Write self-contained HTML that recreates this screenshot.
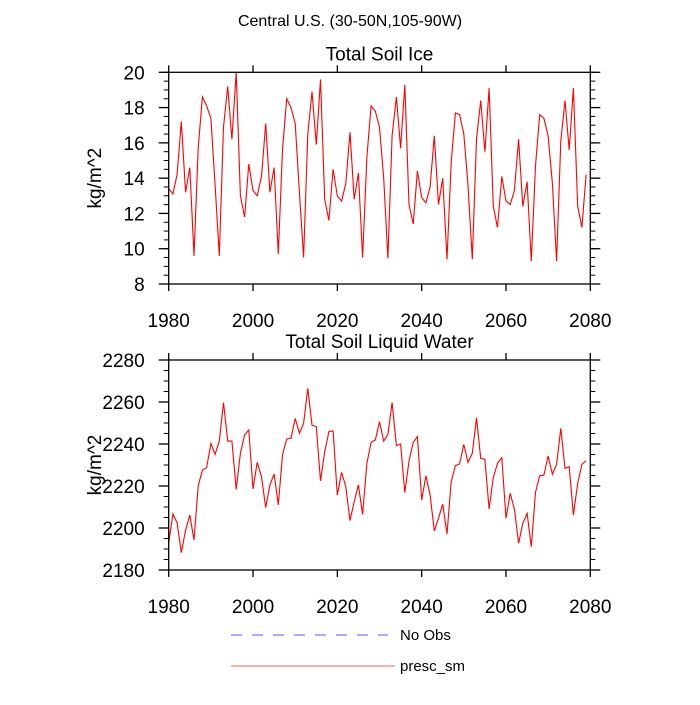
<!DOCTYPE html>
<html><head><meta charset="utf-8"><style>
body{margin:0;background:#fff}
svg text{font-family:"Liberation Sans",sans-serif}
</style></head><body>
<svg id="c" width="700" height="700" viewBox="0 0 700 700" xmlns="http://www.w3.org/2000/svg">
<rect width="700" height="700" fill="#fff"/>
<text x="350" y="26" font-size="16" text-anchor="middle">Central U.S. (30-50N,105-90W)</text>
<g>
<line x1="231" y1="635" x2="388" y2="635" stroke="#5555ff" stroke-dasharray="11,10"/>
<text x="400" y="640" font-size="15">No Obs</text>
<line x1="231" y1="666" x2="395" y2="666" stroke="#f06060"/>
<text x="400" y="671" font-size="15">presc_sm</text>
</g>
</svg>
<script>
const years = Array.from({length:100},(_,i)=>1980+i);
const iceValues = [13.4,13.1,14.2,17.2,13.2,14.6,9.6,15.7,18.6,18.1,17.4,13.6,9.6,16.9,19.2,16.2,20.0,13.0,11.8,14.8,13.3,13.0,14.1,17.1,13.2,14.6,9.7,15.6,18.5,18.0,17.1,13.2,9.5,16.5,18.9,15.9,19.6,12.8,11.6,14.5,13.0,12.7,13.7,16.6,12.8,14.3,9.5,15.2,18.1,17.8,16.9,14.0,9.45,16.4,18.6,15.7,19.3,12.5,11.4,14.4,12.9,12.6,13.5,16.4,12.5,14.0,9.4,14.9,17.7,17.6,16.5,13.6,9.4,16.2,18.4,15.5,19.1,12.4,11.2,14.1,12.7,12.5,13.3,16.2,12.4,13.8,9.3,14.7,17.6,17.4,16.4,13.7,9.3,16.1,18.4,15.6,19.1,12.4,11.2,14.2];
const waterValues = [2192.7,2206.7,2202.5,2188.3,2199,2206.2,2194.3,2220,2227.6,2228.7,2240.3,2235.1,2241.4,2259.7,2241.4,2241.4,2218.4,2235.6,2244.3,2246.7,2218.6,2231.3,2224.4,2209.7,2220.5,2225.7,2211,2234.8,2242.4,2242.7,2252.2,2245.1,2249.8,2266.5,2249,2248.3,2222.5,2236.3,2245.9,2246.3,2215.7,2226.5,2219.7,2203.5,2212.5,2220.5,2206.5,2230.8,2240.8,2241.9,2250.6,2241.4,2244.6,2259.7,2239.2,2240,2216.8,2231.9,2240.8,2243.5,2213.3,2224.9,2215.7,2198.6,2204.6,2211.4,2197.1,2222.1,2229.7,2230.5,2239.8,2231.3,2235.6,2252.5,2233.2,2232.7,2209,2224,2230.8,2233.5,2204.6,2216.5,2209,2192.7,2202.2,2207,2191.1,2217,2224.9,2225.2,2234.3,2225.6,2230.3,2247.5,2228.4,2229.2,2206.2,2221.3,2230.3,2232.1];
const xTicks = [1980,2000,2020,2040,2060,2080];
const iceTicks = [8,10,12,14,16,18,20];
const waterTicks = [2180,2200,2220,2240,2260,2280];

const NS='http://www.w3.org/2000/svg';
const svg=document.getElementById('c');
function mk(tag,attrs,parent){const e=document.createElementNS(NS,tag);for(const k in attrs)e.setAttribute(k,attrs[k]);(parent||svg).appendChild(e);return e;}

function panel(cfg){
  const L=168.7,R=590.3,T=cfg.top,B=cfg.bottom;
  const g=mk('g',{});
  
  
  const xs=v=>L+(v-1980)/100*(R-L);
  const ys=v=>B-(v-cfg.min)/(cfg.max-cfg.min)*(B-T);
  const t=mk('text',{x:(L+R)/2,y:T-12,'font-size':19,'text-anchor':'middle'},g);
  t.textContent=cfg.title;
  
  
  for(let v=cfg.min;v<=cfg.max+1e-9;v+=cfg.minor){
    const y=ys(v);
    const a=mk('line',{x1:L-5,x2:L,y1:y,y2:y,stroke:'#000','stroke-width':1},g);
    
    
    const b=mk('line',{x1:R,x2:R+5,y1:y,y2:y,stroke:'#000','stroke-width':1},g);
    
    
  }
  cfg.ticks.forEach(v=>{
    const y=ys(v);
    const a=mk('line',{x1:L-10,x2:L,y1:y,y2:y,stroke:'#000','stroke-width':1.3},g);
    
    
    const b=mk('line',{x1:R,x2:R+10,y1:y,y2:y,stroke:'#000','stroke-width':1.3},g);
    
    
    const lb=mk('text',{x:L-24,y:y+7,'font-size':19,'text-anchor':'end'},g);
    lb.textContent=v;
    
    
  });
  xTicks.forEach(v=>{
    const x=xs(v);
    const a=mk('line',{x1:x,x2:x,y1:B,y2:B+7,stroke:'#000','stroke-width':1.3},g);
    
    
    const b=mk('line',{x1:x,x2:x,y1:T-7,y2:T,stroke:'#000','stroke-width':1.3},g);
    
    
    const lb=mk('text',{x:x,y:B+43,'font-size':19,'text-anchor':'middle'},g);
    lb.textContent=v;
    
    
  });
  const yt=mk('text',{x:0,y:0,'font-size':19,'text-anchor':'middle',transform:`translate(101,${(T+B)/2}) rotate(-90)`},g);
  yt.textContent='kg/m^2';
  
  
  const pts=cfg.values.map((v,i)=>xs(years[i]).toFixed(1)+','+ys(v).toFixed(1)).join(' ');
  const pl=mk('polyline',{points:pts,fill:'none',stroke:'#ff0000','stroke-width':1.1},g);
  
  
  const fr=mk('rect',{x:L,y:T,width:R-L,height:B-T,fill:'none',stroke:'#000','stroke-width':1.3},g);
  
  
}
panel({name:'soil-ice-panel',title:'Total Soil Ice',top:72.3,bottom:284,min:8,max:20,minor:0.5,ticks:iceTicks,values:iceValues});
panel({name:'soil-liquid-water-panel',title:'Total Soil Liquid Water',top:360,bottom:570,min:2180,max:2280,minor:5,ticks:waterTicks,values:waterValues});
</script>
</body></html>
